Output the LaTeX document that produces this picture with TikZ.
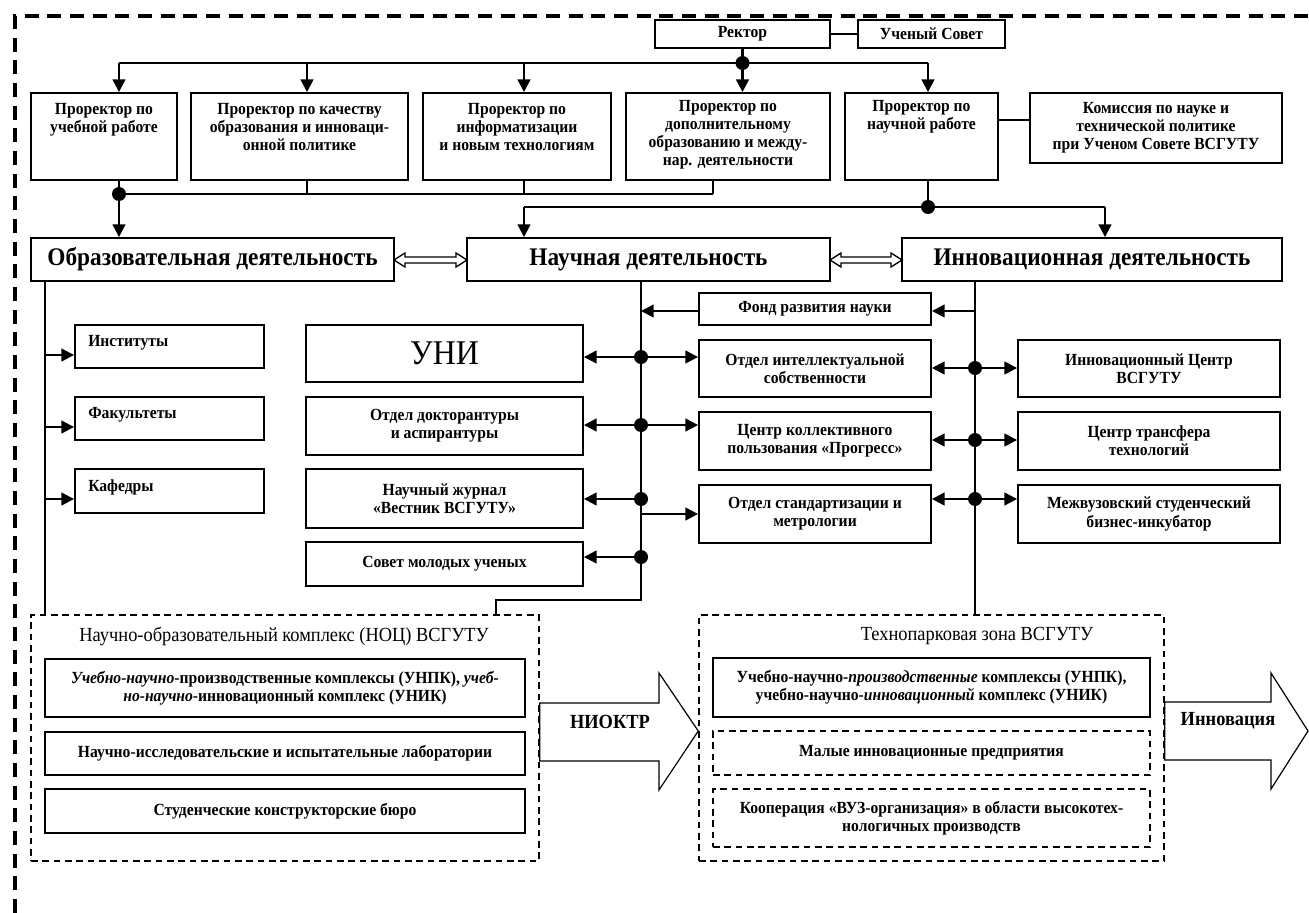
\documentclass[tikz,border=0pt]{standalone}
\usepackage{fontspec}
\setmainfont{Liberation Serif}[FakeStretch=0.92]
\usetikzlibrary{arrows.meta,calc}
\newcommand\bodyfont{\bfseries\fontsize{12.75}{13.6}\selectfont}
\newcommand\headfont{\bfseries\fontsize{19}{21}\selectfont}
\newcommand\arrfont{\bfseries\fontsize{15}{17}\selectfont}
\newcommand\titlefont{\mdseries\fontsize{15}{17}\selectfont}
\tikzset{
  box/.style={draw,line width=1.4pt,inner sep=0pt,align=center,font=\bodyfont},
  dbox/.style={box,dash pattern=on 5pt off 3.5pt,line width=1.1pt},
  grp/.style={draw,dash pattern=on 5pt off 3.5pt,line width=1.1pt,inner sep=0pt},
  txt/.style={inner sep=0pt,align=center,font=\bodyfont},
  conn/.style={line width=1.7pt},
  arr/.style={conn,-{Triangle[length=9.5pt,width=9.5pt]}},
  dot/.style={circle,fill,inner sep=0pt,minimum size=10.5pt},
  outer/.style={line width=2.3pt,dash pattern=on 10.5pt off 6.5pt},
  bigarr/.style={draw,line width=0.9pt,fill=white},
  dblarr/.style={draw,line width=1pt,fill=white}
}
\newcommand\bx[7][]{\node[box,minimum width={(#5-#3)*0.75pt},minimum height={(#6-#4)*0.75pt},#1] (#2) at ({(#3+#5)/2},{(#4+#6)/2}) {#7};}
\newcommand\dblarrow[3]{\draw[dblarr] (#1,#3) -- ++(11,-7) -- ++(0,4) -- ($(#2,#3)+(-11,-3)$) -- ++(0,-4) -- (#2,#3) -- ++(-11,7) -- ++(0,-4) -- ($(#1,#3)+(11,3)$) -- ++(0,4) -- cycle;}
\begin{document}
\begin{tikzpicture}[x=0.75pt,y=-0.75pt]
\useasboundingbox (0,0) rectangle (1309,913);
% outer frame
\draw[outer] (15,913) -- (15,16) -- (1309,16);

% top level
\bx{rector}{655}{20}{830}{48}{Ректор}
\bx{sovet}{858}{20}{1005}{48}{Ученый Совет}
\bx{p1}{31}{93}{177}{180}{}
\bx{p2}{191}{93}{408}{180}{}
\bx{p3}{423}{93}{611}{180}{}
\bx{p4}{626}{93}{830}{180}{}
\bx{p5}{845}{93}{998}{180}{}
\bx{kom}{1030}{93}{1282}{163}{Комиссия по науке и\\технической политике\\при Ученом Совете ВСГУТУ}
\node[txt,anchor=north] (t1) at ($(p1.north)+(0,11)$) {Проректор по\\учебной работе};
\node[txt,anchor=north] (t2) at ($(p2.north)+(0,11)$) {Проректор по качеству\\образования и инноваци-\\онной политике};
\node[txt,anchor=north] (t3) at ($(p3.north)+(0,11)$) {Проректор по\\информатизации\\и новым технологиям};
\node[txt,anchor=north] (t4) at ($(p4.north)+(0,8)$) {Проректор по\\дополнительному\\образованию и между-\\нар. деятельности};
\node[txt,anchor=north] (t5) at ($(p5.north)+(0,8)$) {Проректор по\\научной работе};

% main activities
\bx[font=\headfont]{obr}{31}{238}{394}{281}{Образовательная деятельность}
\bx[font=\headfont]{nauch}{467}{238}{830}{281}{Научная деятельность}
\bx[font=\headfont]{innov}{902}{238}{1282}{281}{Инновационная деятельность}
\dblarrow{394}{467}{260}
\dblarrow{830}{902}{260}

% left column
\bx{inst}{75}{325}{264}{368}{}
\bx{fak}{75}{397}{264}{440}{}
\bx{kaf}{75}{469}{264}{513}{}
\node[txt,anchor=west] (ti) at (88,343) {Институты};
\node[txt,anchor=west] (tf) at (88,415) {Факультеты};
\node[txt,anchor=west] (tk) at (88,487) {Кафедры};

% middle column
\bx[font=\mdseries\fontsize{26}{30}\selectfont]{uni}{306}{325}{583}{382}{УНИ}
\bx{dokt}{306}{397}{583}{455}{Отдел докторантуры\\и аспирантуры}
\bx{jour}{306}{469}{583}{528}{Научный журнал\\«Вестник ВСГУТУ»}
\bx{smu}{306}{542}{583}{586}{Совет молодых ученых}

% right-middle column
\bx{fond}{699}{293}{931}{325}{Фонд развития науки}
\bx{ois}{699}{340}{931}{397}{Отдел интеллектуальной\\собственности}
\bx{ckp}{699}{412}{931}{470}{Центр коллективного\\пользования «Прогресс»}
\bx{osm}{699}{485}{931}{543}{Отдел стандартизации и\\метрологии}

% right column
\bx{ic}{1018}{340}{1280}{397}{Инновационный Центр\\ВСГУТУ}
\bx{ctt}{1018}{412}{1280}{470}{Центр трансфера\\технологий}
\bx{mez}{1018}{485}{1280}{543}{Межвузовский студенческий\\бизнес-инкубатор}

% NOC group
\node[grp,minimum width={508*0.75pt},minimum height={246*0.75pt}] (noc) at (285,738) {};
\node[inner sep=0pt,font=\titlefont] (noct) at (284,636) {Научно-образовательный комплекс (НОЦ) ВСГУТУ};
\bx{unpk1}{45}{659}{525}{717}{\textit{Учебно-научно}-производственные комплексы (УНПК), \textit{учеб-}\\\textit{но-научно}-инновационный комплекс (УНИК)}
\bx{nil}{45}{732}{525}{775}{Научно-исследовательские и испытательные лаборатории}
\bx{skb}{45}{789}{525}{833}{Студенческие конструкторские бюро}

% Technopark group
\node[grp,minimum width={465*0.75pt},minimum height={246*0.75pt}] (tp) at (931.5,738) {};
\node[inner sep=0pt,font=\titlefont] (tpt) at (977,636) {Технопарковая зона ВСГУТУ};
\bx{unpk2}{713}{658}{1150}{717}{Учебно-научно-\textit{производственные} комплексы (УНПК),\\учебно-научно-\textit{инновационный} комплекс (УНИК)}
\bx[dbox]{mip}{713}{731}{1150}{775}{Малые инновационные предприятия}
\bx[dbox]{koop}{713}{789}{1150}{847}{Кооперация «ВУЗ-организация» в области высокотех-\\нологичных производств}

% big arrows
\draw[bigarr] (noc.east |- 0,703) -- (659,703) -- (659,673) -- (tp.west |- 0,731) -- (659,790) -- (659,761) -- (noc.east |- 0,761) -- cycle;
\node[inner sep=0pt,font=\arrfont] (niokt) at (610,722) {НИОКТР};
\draw[bigarr] (tp.east |- 0,702) -- (1271,702) -- (1271,673) -- (1308,731) -- (1271,789) -- (1271,760) -- (tp.east |- 0,760) -- cycle;
\node[inner sep=0pt,font=\arrfont] (innt) at (1228,721) {Инновация};

% ---- connectors ----
\draw[conn] (rector.east) -- (sovet.west);
\coordinate (b1L) at (119,63);
\coordinate (b1R) at (928,63);
\node[dot] (j0) at (rector.south |- b1L) {};
\draw[conn] (rector.south) -- (j0);
\draw[conn] (b1L) -- (b1R);
\draw[arr] (b1L) -- (b1L |- p1.north);
\draw[arr] (307,63) -- (p2.north -| 307,0);
\draw[arr] (524,63) -- (p3.north -| 524,0);
\draw[arr] (j0) -- (j0 |- p4.north);
\draw[arr] (b1R) -- (b1R |- p5.north);
\draw[conn] (p5.east |- 0,120) -- (kom.west |- 0,120);

% second bus
\node[dot] (j1) at (119,194) {};
\draw[conn] (p1.south -| j1) -- (j1);
\draw[conn] (j1) -- (713,194);
\draw[conn] (p2.south -| 307,0) -- (307,194);
\draw[conn] (p3.south -| 524,0) -- (524,194);
\draw[conn] (p4.south -| 713,0) -- (713,194);
\draw[arr] (j1) -- (obr.north -| j1);

% third bus
\node[dot] (j2) at (928,207) {};
\draw[conn] (p5.south -| j2) -- (j2);
\draw[conn] (524,207) -- (1105,207);
\draw[arr] (524,207) -- (nauch.north -| 524,0);
\draw[arr] (1105,207) -- (innov.north -| 1105,0);

% education branch
\draw[conn] (obr.south -| 45,0) -- (noc.north -| 45,0);
\draw[arr] (45,355) -- (inst.west |- 0,355);
\draw[arr] (45,427) -- (fak.west |- 0,427);
\draw[arr] (45,499) -- (kaf.west |- 0,499);

% science branch
\coordinate (nb) at (641,600);
\draw[conn] (nauch.south -| nb) -- (nb) -| (noc.north -| 496,0);
\node[dot] (n1) at (641,357) {};
\node[dot] (n2) at (641,425) {};
\node[dot] (n3) at (641,499) {};
\node[dot] (n4) at (641,557) {};
\draw[arr] (n1) -- (uni.east |- n1);
\draw[arr] (n1) -- (ois.west |- n1);
\draw[arr] (n2) -- (dokt.east |- n2);
\draw[arr] (n2) -- (ckp.west |- n2);
\draw[arr] (n3) -- (jour.east |- n3);
\draw[arr] (n4) -- (smu.east |- n4);
\draw[arr] (641,514) -- (osm.west |- 0,514);
\draw[arr] (fond.west |- 0,311) -- (641,311);

% innovation branch
\draw[conn] (innov.south -| 975,0) -- (tp.north -| 975,0);
\node[dot] (i1) at (975,368) {};
\node[dot] (i2) at (975,440) {};
\node[dot] (i3) at (975,499) {};
\draw[arr] (975,311) -- (fond.east |- 0,311);
\draw[arr] (i1) -- (ois.east |- i1);
\draw[arr] (i1) -- (ic.west |- i1);
\draw[arr] (i2) -- (ckp.east |- i2);
\draw[arr] (i2) -- (ctt.west |- i2);
\draw[arr] (i3) -- (osm.east |- i3);
\draw[arr] (i3) -- (mez.west |- i3);
\end{tikzpicture}
\end{document}
